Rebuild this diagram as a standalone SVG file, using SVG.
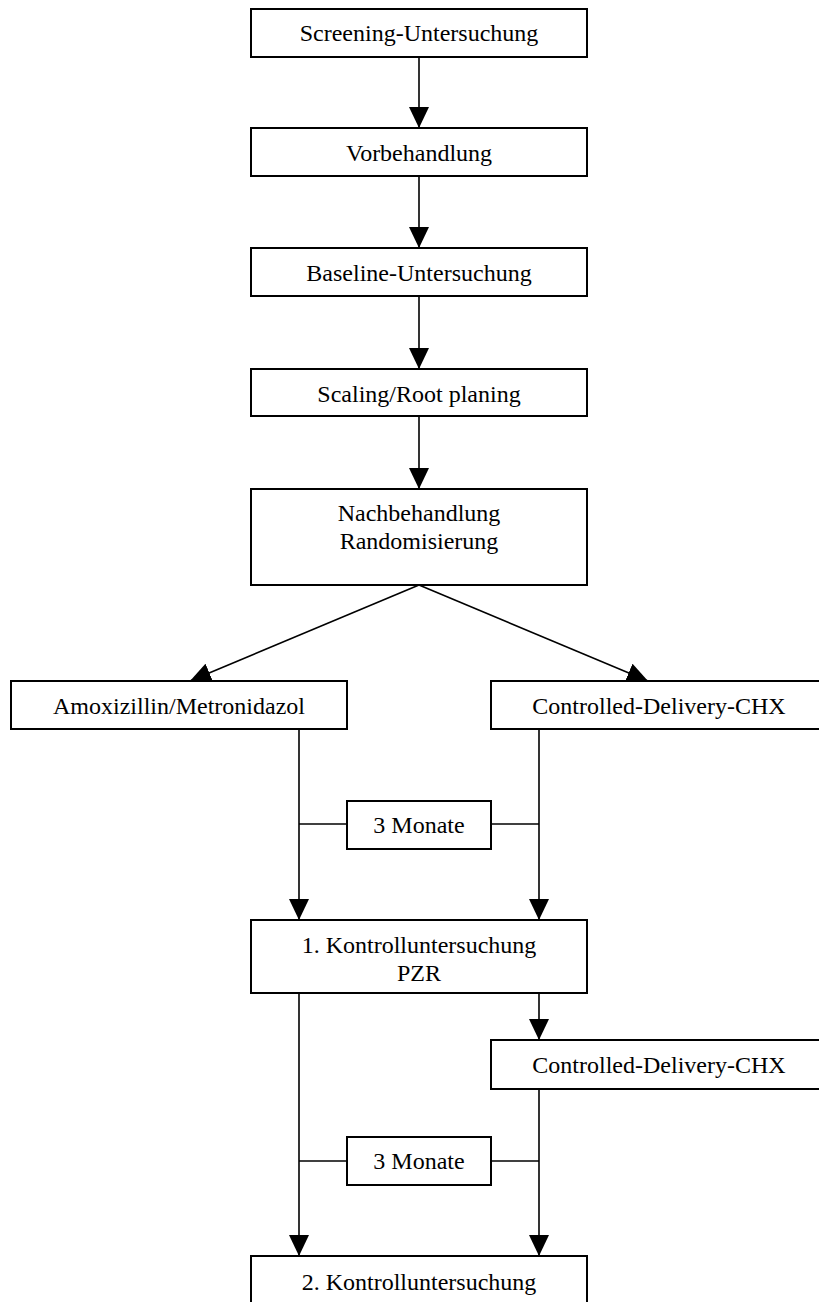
<svg xmlns="http://www.w3.org/2000/svg" width="819" height="1302" viewBox="0 0 819 1302">
<defs>
<marker id="ah" markerUnits="userSpaceOnUse" markerWidth="22" markerHeight="20" refX="21" refY="10" orient="auto">
<path d="M0,0 L21,10 L0,20 z" fill="#000"/>
</marker>
<style>
.box{fill:#fff;stroke:#000;stroke-width:2}
.t{font-family:"Liberation Serif","Times New Roman",serif;font-size:24px;fill:#000;text-anchor:middle}
.c{fill:none;stroke:#000;stroke-width:1.6}
.a{marker-end:url(#ah)}
</style>
</defs>
<rect width="819" height="1302" fill="#fff"/>
<g id="connectors">
<line class="c a" x1="419" y1="57" x2="419" y2="128"/>
<line class="c a" x1="419" y1="176" x2="419" y2="248"/>
<line class="c a" x1="419" y1="296" x2="419" y2="369"/>
<line class="c a" x1="419" y1="416" x2="419" y2="489"/>
<line class="c a" x1="419" y1="585" x2="190" y2="681"/>
<line class="c a" x1="419" y1="585" x2="648" y2="681"/>
<line class="c a" x1="299" y1="729" x2="299" y2="920"/>
<line class="c a" x1="539" y1="729" x2="539" y2="920"/>
<line class="c" x1="299" y1="824" x2="347" y2="824"/>
<line class="c" x1="491" y1="824" x2="539" y2="824"/>
<line class="c a" x1="299" y1="993" x2="299" y2="1256"/>
<line class="c a" x1="539" y1="993" x2="539" y2="1040"/>
<line class="c a" x1="539" y1="1089" x2="539" y2="1256"/>
<line class="c" x1="299" y1="1161" x2="347" y2="1161"/>
<line class="c" x1="491" y1="1161" x2="539" y2="1161"/>
</g>
<g id="screening"><rect class="box" x="251" y="9" width="336" height="48"/><text class="t" x="419" y="41">Screening-Untersuchung</text></g>
<g id="vorbehandlung"><rect class="box" x="251" y="128" width="336" height="48"/><text class="t" x="419" y="161">Vorbehandlung</text></g>
<g id="baseline"><rect class="box" x="251" y="248" width="336" height="48"/><text class="t" x="419" y="281">Baseline-Untersuchung</text></g>
<g id="scaling"><rect class="box" x="251" y="369" width="336" height="47"/><text class="t" x="419" y="402">Scaling/Root planing</text></g>
<g id="nachbehandlung"><rect class="box" x="251" y="489" width="336" height="96"/><text class="t" x="419" y="521">Nachbehandlung</text><text class="t" x="419" y="549">Randomisierung</text></g>
<g id="amox"><rect class="box" x="11" y="681" width="336" height="48"/><text class="t" x="179" y="714">Amoxizillin/Metronidazol</text></g>
<g id="chx1"><rect class="box" x="491" y="681" width="336" height="48"/><text class="t" x="659" y="714">Controlled-Delivery-CHX</text></g>
<g id="monate1"><rect class="box" x="347" y="801" width="144" height="48"/><text class="t" x="419" y="833">3 Monate</text></g>
<g id="kontrolle1"><rect class="box" x="251" y="920" width="336" height="73"/><text class="t" x="419" y="953">1. Kontrolluntersuchung</text><text class="t" x="419" y="981">PZR</text></g>
<g id="chx2"><rect class="box" x="491" y="1040" width="336" height="49"/><text class="t" x="659" y="1073">Controlled-Delivery-CHX</text></g>
<g id="monate2"><rect class="box" x="347" y="1137" width="144" height="48"/><text class="t" x="419" y="1169">3 Monate</text></g>
<g id="kontrolle2"><rect class="box" x="251" y="1256" width="336" height="60"/><text class="t" x="419" y="1290">2. Kontrolluntersuchung</text></g>
</svg>
